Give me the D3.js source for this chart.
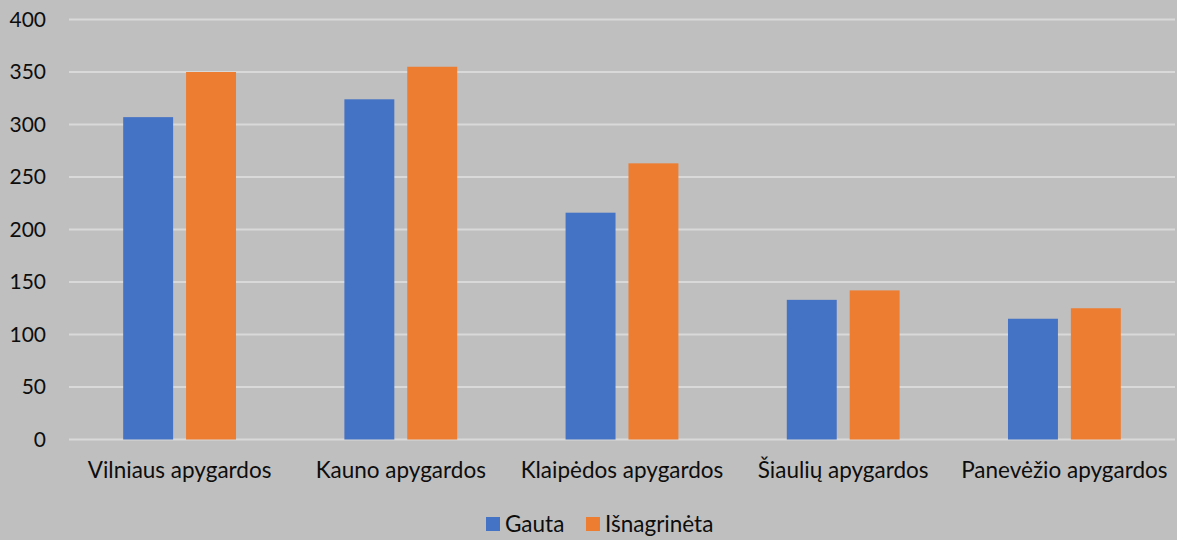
<!DOCTYPE html>
<html>
<head>
<meta charset="utf-8">
<script src="https://cdn.jsdelivr.net/npm/d3@7"></script>
<style>
  body { margin: 0; background: #bfbfbf; }
  text { font-family: Lato, "Open Sans", sans-serif; fill: #0d0d0d; }
</style>
</head>
<body>
<div id="chart"></div>
<script>
var categories = ["Vilniaus apygardos", "Kauno apygardos", "Klaipėdos apygardos", "Šiaulių apygardos", "Panevėžio apygardos"];
var seriesNames = ["Gauta", "Išnagrinėta"];
var gauta = [307, 324, 216, 133, 115];
var isnagrineta = [350, 355, 263, 142, 125];
var yTicks = [0, 50, 100, 150, 200, 250, 300, 350, 400];
var colors = ["#4472c4", "#ed7d31"];

var width = 1177,
    height = 540,
    margin = { top: 19.5, right: 2, bottom: 100.5, left: 69 };

var data = categories.map(function (c, i) {
    return { label: c, values: [gauta[i], isnagrineta[i]] };
});

var svg = d3.select("#chart")
    .append("svg").attr("width", width)
    .attr("height", height);

svg.append("rect").attr("width", width).attr("height", height).attr("fill", "#bfbfbf");

var x0 = d3.scaleBand()
    .domain(categories)
    .range([margin.left, width - margin.right])
    .paddingInner(0.49)
    .paddingOuter(0.245);

var x1 = d3.scaleBand()
    .domain(seriesNames)
    .range([0, x0.bandwidth()])
    .paddingInner(0.206);

var y = d3.scaleLinear()
    .domain([0, 400])
    .range([height - margin.bottom, margin.top]);

// gridlines
svg.append("g")
    .selectAll("line")
    .data(yTicks)
    .enter().append("line")
    .attr("x1", margin.left)
    .attr("x2", width - margin.right)
    .attr("y1", function (d) { return y(d); })
    .attr("y2", function (d) { return y(d); })
    .attr("stroke", "#d9d9d9")
    .attr("stroke-width", 2);

// y labels
svg.append("g")
    .selectAll("text")
    .data(yTicks)
    .enter().append("text")
    .attr("x", 46)
    .attr("y", function (d) { return y(d); })
    .attr("dy", "0.35em")
    .attr("text-anchor", "end")
    .style("font-size", "21px")
    .text(function (d) { return d; });

// bars
var group = svg.append("g")
    .selectAll("g")
    .data(data)
    .enter().append("g")
    .attr("transform", function (d) { return "translate(" + x0(d.label) + ",0)"; });

group.selectAll("rect")
    .data(function (d) { return d.values.map(function (v, i) { return { key: seriesNames[i], value: v, i: i }; }); })
    .enter().append("rect")
    .attr("x", function (d) { return x1(d.key); })
    .attr("y", function (d) { return y(d.value); })
    .attr("width", x1.bandwidth())
    .attr("height", function (d) { return y(0) - y(d.value); })
    .attr("fill", function (d) { return colors[d.i]; });

// x labels
svg.append("g")
    .selectAll("text")
    .data(categories)
    .enter().append("text")
    .attr("x", function (d) { return x0(d) + x0.bandwidth() / 2; })
    .attr("y", 478)
    .attr("text-anchor", "middle")
    .style("font-size", "22.5px")
    .text(function (d) { return d; });

// legend
var legendX = [486, 586];
var legend = svg.append("g")
    .selectAll("g")
    .data(seriesNames)
    .enter().append("g")
    .attr("transform", function (d, i) { return "translate(" + legendX[i] + ",517)"; });

legend.append("rect")
    .attr("width", 14)
    .attr("height", 14)
    .attr("fill", function (d, i) { return colors[i]; });

legend.append("text")
    .attr("x", 19)
    .attr("y", 7)
    .attr("dy", "0.36em")
    .style("font-size", "22.5px")
    .text(function (d) { return d; });
</script>
</body>
</html>
